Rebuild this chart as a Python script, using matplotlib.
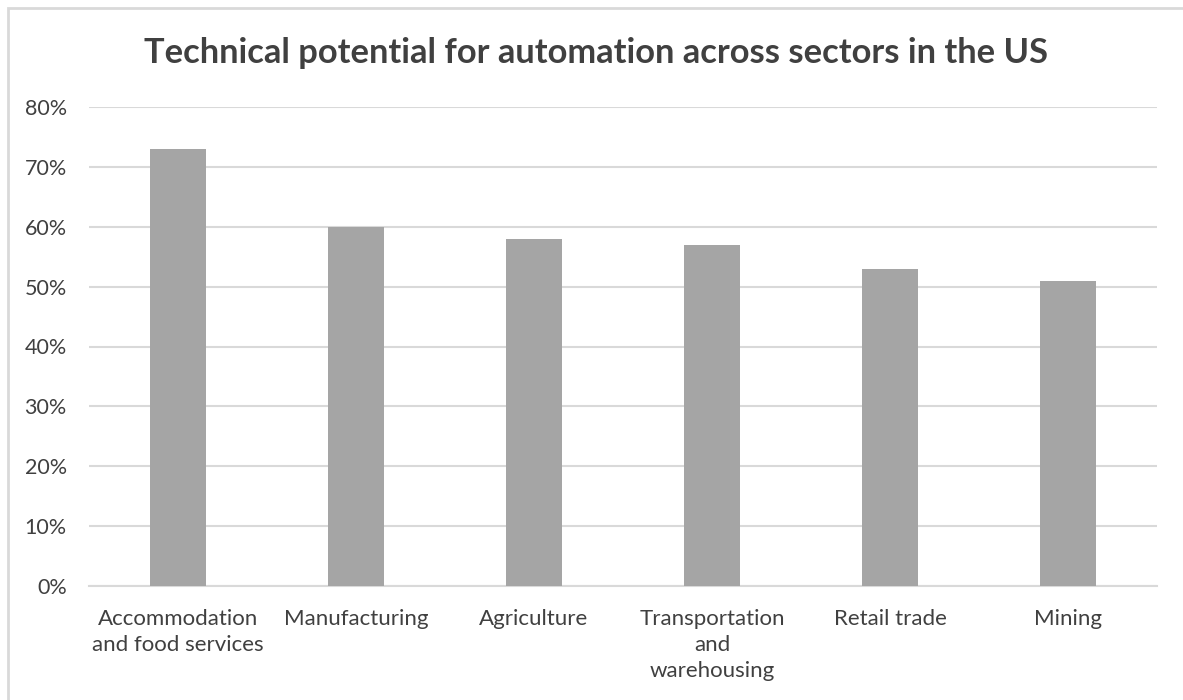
import matplotlib
matplotlib.use("Agg")
import matplotlib.pyplot as plt
from matplotlib.ticker import PercentFormatter
from matplotlib.patches import Rectangle

# sector share of work activities that could be automated
sectors = ["Accommodation\nand food services", "Manufacturing", "Agriculture",
           "Transportation\nand\nwarehousing", "Retail trade", "Mining"]
potential = [0.73, 0.60, 0.58, 0.57, 0.53, 0.51]
y_ticks = [0.0, 0.1, 0.2, 0.3, 0.4, 0.5, 0.6, 0.7, 0.8]

plt.rcParams['font.family'] = ['Lato', 'DejaVu Sans']
text_col = "#404040"
grid_col = "#d9d9d9"

fig = plt.figure(figsize=(11.83, 7.0), dpi=100)
ax = fig.add_axes([0.0752, 0.1629, 0.9028, 0.6842])

x = range(len(sectors))
ax.bar(x, potential, width=0.315, color="#a5a5a5", zorder=3)

ax.set_xlim(-0.5, len(sectors) - 0.5)
ax.set_ylim(0, 0.8)
ax.set_yticks(y_ticks)
ax.yaxis.set_major_formatter(PercentFormatter(1.0, decimals=0))
ax.set_xticks(list(x))
ax.set_xticklabels(sectors, fontsize=16, color=text_col, linespacing=1.38)
ax.tick_params(axis="y", labelsize=15.5, labelcolor=text_col, length=0, pad=16)
ax.tick_params(axis="x", length=0, pad=16.5)

ax.grid(axis="y", color=grid_col, linewidth=1.5, zorder=0)
for side in ["top", "right", "left"]:
    ax.spines[side].set_visible(False)
ax.spines["bottom"].set_color(grid_col)
ax.spines["bottom"].set_linewidth(1.5)

fig.text(0.504, 0.91, "Technical potential for automation across sectors in the US",
         ha="center", va="baseline", fontsize=24.8, fontweight="bold", color=text_col)

# chart frame, running off the right and bottom edges
fig.patches.append(Rectangle((8 / 1183, -0.1), 1.2, 0.1 + 692 / 700,
                             transform=fig.transFigure, fill=False,
                             edgecolor=grid_col, linewidth=2))

fig.savefig("out.png", dpi=100)
